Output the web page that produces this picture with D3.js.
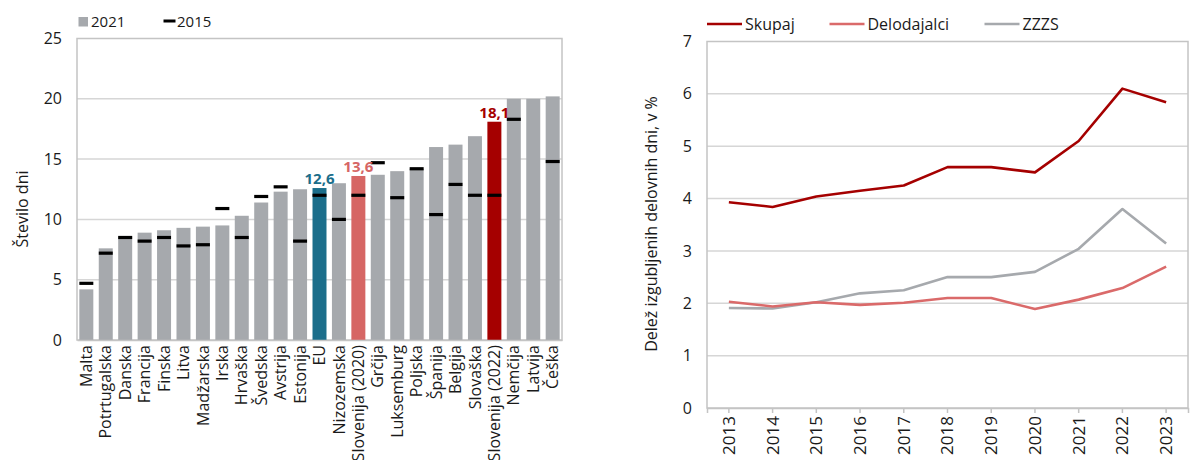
<!DOCTYPE html>
<html><head><meta charset="utf-8">
<script src="https://cdn.jsdelivr.net/npm/d3@7"></script>
<style>
body{margin:0;background:#fff;}
svg{display:block;font-family:"Open Sans",sans-serif;}
</style></head>
<body>
<svg id="chart" width="1190" height="460"></svg>
<script>
// ---------- DATA ----------
const categories = ["Malta","Potrtugalska","Danska","Francija","Finska","Litva","Madžarska","Irska","Hrvaška","Švedska","Avstrija","Estonija","EU","Nizozemska","Slovenija (2020)","Grčija","Luksemburg","Poljska","Španija","Belgija","Slovaška","Slovenija (2022)","Nemčija","Latvija","Češka"];
const values2021 = [4.2,7.6,8.6,8.9,9.1,9.3,9.4,9.5,10.3,11.4,12.3,12.5,12.6,13.0,13.6,13.7,14.0,14.2,16.0,16.2,16.9,18.1,20.0,20.0,20.2];
const values2015 = [4.7,7.2,8.5,8.2,8.5,7.8,7.9,10.9,8.5,11.9,12.7,8.2,12.0,10.0,12.0,14.7,11.8,14.2,10.4,12.9,12.0,12.0,18.3,null,14.8];
const barTicks = [0,5,10,15,20,25];
const barLegend = ["2021","2015"];
const highlightLabels = {"EU":"12,6","Slovenija (2020)":"13,6","Slovenija (2022)":"18,1"};

const years = ["2013","2014","2015","2016","2017","2018","2019","2020","2021","2022","2023"];
const skupaj = [3.93,3.84,4.04,4.15,4.25,4.6,4.6,4.5,5.1,6.1,5.84];
const delodajalci = [2.03,1.94,2.02,1.97,2.01,2.1,2.1,1.89,2.07,2.29,2.7];
const zzzs = [1.91,1.9,2.02,2.19,2.25,2.5,2.5,2.6,3.04,3.8,3.14];
const seriesNames = ["Skupaj","Delodajalci","ZZZS"];
const lineTicks = [0,1,2,3,4,5,6,7];

// ---------- STYLE ----------
const grayBar = "#a6a9ad";
const highlightColors = {"EU":"#1b6e8b","Slovenija (2020)":"#d66664","Slovenija (2022)":"#a50000"};
const seriesColors = ["#a50000","#da6a6a","#a6a9ad"];
const gridColor = "#d6d6d6";
const borderColor = "#c4c4c4";
const textColor = "#1a1a1a";
const fs = 16;

const svg = d3.select("#chart");

// ---------- LEFT: BAR CHART ----------
const L = {left:77, right:562, top:38.5, bottom:340};
const xB = d3.scaleBand().domain(categories).range([L.left, L.right]).paddingInner(0.28).paddingOuter(0.12);
const yB = d3.scaleLinear().domain([0,25]).range([L.bottom, L.top]);

const gL = svg.append("g");
gL.selectAll("line.grid").data(barTicks.filter(t=>t>0 && t<25)).join("line")
  .attr("x1",L.left).attr("x2",L.right).attr("y1",d=>yB(d)).attr("y2",d=>yB(d))
  .attr("stroke",gridColor).attr("stroke-width",1.5);
gL.append("rect").attr("x",L.left).attr("y",L.top).attr("width",L.right-L.left).attr("height",L.bottom-L.top)
  .attr("fill","none").attr("stroke",borderColor).attr("stroke-width",1.5);

const yAxisL = d3.axisLeft(yB).tickValues(barTicks).tickFormat(d3.format("d")).tickSize(0).tickPadding(15);
gL.append("g").attr("transform",`translate(${L.left},0)`).call(yAxisL)
  .call(g=>g.select(".domain").remove())
  .selectAll("text").attr("font-size",fs).attr("fill",textColor).attr("font-family","Open Sans");

const data = categories.map((c,i)=>({c, v21:values2021[i], v15:values2015[i]}));
gL.selectAll("rect.bar").data(data).join("rect")
  .attr("x",d=>xB(d.c)).attr("width",xB.bandwidth())
  .attr("y",d=>yB(d.v21)).attr("height",d=>yB(0)-yB(d.v21))
  .attr("fill",d=>highlightColors[d.c]||grayBar);
gL.selectAll("rect.mark").data(data.filter(d=>d.v15!=null)).join("rect")
  .attr("x",d=>xB(d.c)).attr("width",xB.bandwidth())
  .attr("y",d=>yB(d.v15)-1.6).attr("height",3.2).attr("fill","#000");
gL.selectAll("text.val").data(data.filter(d=>highlightLabels[d.c])).join("text")
  .attr("x",d=>xB(d.c)+xB.bandwidth()/2).attr("y",d=>yB(d.v21)-4)
  .attr("text-anchor","middle").attr("font-weight","bold").attr("font-size",15)
  .attr("fill",d=>highlightColors[d.c]).text(d=>highlightLabels[d.c]);

const xAxisL = d3.axisBottom(xB).tickSize(0).tickPadding(0);
const gxL = gL.append("g").attr("transform",`translate(0,${L.bottom})`).call(xAxisL);
gxL.select(".domain").attr("stroke",borderColor).attr("stroke-width",1.5);
gxL.selectAll("text").attr("font-size",fs).attr("fill",textColor).attr("font-family","Open Sans")
  .attr("text-anchor","end").attr("dy","0.35em")
  .attr("transform","translate(0,5) rotate(-90)").attr("x",0).attr("y",0);

gL.append("text").attr("transform","translate(28,209) rotate(-90)").attr("text-anchor","middle")
  .attr("font-size",fs).attr("fill",textColor).text("Število dni");

// legend
const lg = gL.append("g");
lg.append("rect").attr("x",78.5).attr("y",17).attr("width",9.5).attr("height",9.5).attr("fill",grayBar);
lg.append("text").attr("x",91).attr("y",27).attr("font-size",15).attr("fill",textColor).text(barLegend[0]);
lg.append("rect").attr("x",163.5).attr("y",19.5).attr("width",12).attr("height",3).attr("fill","#000");
lg.append("text").attr("x",177).attr("y",27).attr("font-size",15).attr("fill",textColor).text(barLegend[1]);

// ---------- RIGHT: LINE CHART ----------
const R = {left:707, right:1188, top:41.5, bottom:408};
const xL = d3.scaleBand().domain(years).range([R.left,R.right]);
const yL = d3.scaleLinear().domain([0,7]).range([R.bottom,R.top]);
const gR = svg.append("g");
gR.selectAll("line.grid").data(lineTicks.filter(t=>t>0 && t<7)).join("line")
  .attr("x1",R.left).attr("x2",R.right).attr("y1",d=>yL(d)).attr("y2",d=>yL(d))
  .attr("stroke",gridColor).attr("stroke-width",1.5);
gR.append("rect").attr("x",R.left).attr("y",R.top).attr("width",R.right-R.left).attr("height",R.bottom-R.top)
  .attr("fill","none").attr("stroke",borderColor).attr("stroke-width",1.5);

gR.append("g").attr("transform",`translate(${R.left},0)`)
  .call(d3.axisLeft(yL).tickValues(lineTicks).tickFormat(d3.format("d")).tickSize(0).tickPadding(15))
  .call(g=>g.select(".domain").remove())
  .selectAll("text").attr("font-size",fs).attr("fill",textColor).attr("font-family","Open Sans");

const gxR = gR.append("g").attr("transform",`translate(0,${R.bottom})`)
  .call(d3.axisBottom(xL).tickSize(5).tickPadding(0));
gxR.select(".domain").attr("stroke",borderColor).attr("stroke-width",1.5);
gxR.selectAll(".tick line").attr("stroke",borderColor).attr("stroke-width",1.5);
gxR.selectAll("text").attr("font-size",17).attr("fill",textColor).attr("font-family","Open Sans")
  .attr("text-anchor","end").attr("dy","0.35em")
  .attr("transform","translate(0,8) rotate(-90)").attr("x",0).attr("y",0);

const seriesData = [skupaj, delodajalci, zzzs];
const line = d3.line().x((d,i)=>xL(years[i])+xL.bandwidth()/2).y(d=>yL(d));
gR.selectAll("path.series").data(seriesData.slice().reverse()).join("path")
  .attr("d",d=>line(d)).attr("fill","none")
  .attr("stroke",(d,i)=>seriesColors[seriesData.length-1-i]).attr("stroke-width",2.6)
  .attr("stroke-linejoin","round");

gR.append("text").attr("transform","translate(657,224) rotate(-90)").attr("text-anchor","middle")
  .attr("font-size",fs).attr("fill",textColor).text("Delež izgubljenih delovnih dni, v %");

const legX = [707, 829.5, 984.5];
seriesNames.forEach((n,i)=>{
  gR.append("line").attr("x1",legX[i]).attr("x2",legX[i]+35).attr("y1",24).attr("y2",24)
    .attr("stroke",seriesColors[i]).attr("stroke-width",2.6);
  gR.append("text").attr("x",legX[i]+38).attr("y",29.5).attr("font-size",16).attr("fill",textColor).text(n);
});
</script>
</body></html>
